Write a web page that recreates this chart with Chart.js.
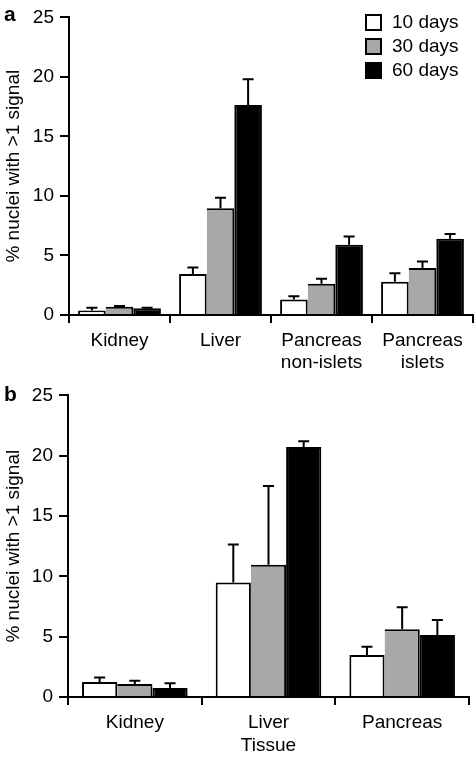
<!DOCTYPE html>
<html>
<head>
<meta charset="utf-8">
<script src="https://cdn.jsdelivr.net/npm/chart.js@4.4.1/dist/chart.umd.min.js"></script>
<style>
  body { margin: 0; background: #fff; width: 475px; height: 757px; position: relative; overflow: hidden; }
  .panel { position: absolute; left: 0; width: 475px; }
  .letter { position: absolute; left: 4px; font: bold 21px "Liberation Sans", Arial, sans-serif; color: #000; }
</style>
</head>
<body>
<div class="panel" style="top:0;height:378px"><canvas id="chartA" width="475" height="378"></canvas></div>
<div class="panel" style="top:378px;height:379px"><canvas id="chartB" width="475" height="379"></canvas></div>
<div class="letter" style="top:2px">a</div>
<div class="letter" style="top:382px">b</div>
<script>
// series names
const seriesLabels = ["10 days", "30 days", "60 days"];
const seriesColors = ["#ffffff", "#a8a8a8", "#000000"];

// panel a
const tissuesA = ["Kidney", "Liver", ["Pancreas", "non-islets"], ["Pancreas", "islets"]];
const a10 = [0.38, 3.45, 1.3, 2.8];
const a10err = [0.22, 0.55, 0.27, 0.7];
const a30 = [0.7, 8.97, 2.62, 3.95];
const a30err = [0.05, 0.88, 0.42, 0.55];
const a60 = [0.56, 17.65, 5.9, 6.4];
const a60err = [0.05, 2.15, 0.7, 0.4];

// panel b
const tissuesB = ["Kidney", "Liver", "Pancreas"];
const b10 = [1.24, 9.49, 3.49];
const b10err = [0.38, 3.16, 0.68];
const b30 = [1.07, 10.97, 5.61];
const b30err = [0.27, 6.53, 1.82];
const b60 = [0.74, 20.73, 5.14];
const b60err = [0.41, 0.47, 1.24];

const yTicks = { min: 0, max: 25, step: 5 };
const FONT = "'Liberation Sans', Arial, sans-serif";

const errorBars = {
  id: "errorBars",
  afterDatasetsDraw(chart) {
    const ctx = chart.ctx;
    const y = chart.scales.y;
    ctx.save();
    ctx.strokeStyle = "#000";
    ctx.lineWidth = 2;
    chart.data.datasets.forEach((ds, i) => {
      const meta = chart.getDatasetMeta(i);
      meta.data.forEach((bar, j) => {
        const top = y.getPixelForValue(ds.data[j] + ds.errors[j]);
        ctx.beginPath();
        ctx.moveTo(bar.x, bar.y);
        ctx.lineTo(bar.x, top);
        ctx.moveTo(bar.x - 5.5, top);
        ctx.lineTo(bar.x + 5.5, top);
        ctx.stroke();
      });
    });
    ctx.restore();
  }
};

const boxLegend = {
  id: "boxLegend",
  afterDraw(chart, args, opts) {
    if (!opts.show) return;
    const ctx = chart.ctx;
    ctx.save();
    ctx.font = "19px " + FONT;
    ctx.textBaseline = "middle";
    chart.data.datasets.forEach((ds, i) => {
      const top = opts.y + i * 24;
      ctx.fillStyle = ds.backgroundColor;
      ctx.fillRect(opts.x, top, 17, 17);
      ctx.strokeStyle = "#000";
      ctx.lineWidth = 2;
      ctx.strokeRect(opts.x + 1, top + 1, 15, 15);
      ctx.fillStyle = "#000";
      ctx.fillText(ds.label, opts.x + 27, top + 9);
    });
    ctx.restore();
  }
};

function makeDatasets(vals, errs) {
  return vals.map((v, i) => ({
    label: seriesLabels[i],
    data: v,
    errors: errs[i],
    backgroundColor: seriesColors[i],
    borderColor: "#000",
    borderWidth: i === 1 ? { top: 2, right: 2, left: 0, bottom: 0 } : 2,
    borderSkipped: "start",
    barPercentage: 1
  }));
}

function makeChart(id, labels, datasets, cfg) {
  return new Chart(document.getElementById(id), {
    type: "bar",
    data: { labels: labels, datasets: datasets },
    plugins: [errorBars, boxLegend],
    options: {
      responsive: false,
      animation: false,
      datasets: { bar: { categoryPercentage: cfg.catPct } },
      layout: { padding: { top: cfg.top, right: cfg.right, left: 0, bottom: 0 } },
      plugins: {
        legend: { display: false },
        tooltip: { enabled: false },
        boxLegend: cfg.legend
      },
      scales: {
        x: {
          grid: { display: true, offset: true, drawOnChartArea: false, drawTicks: true, tickLength: 8, color: "#000", lineWidth: 2 },
          border: { display: true, color: "#000", width: 2 },
          ticks: { color: "#000", font: { family: FONT, size: 19 }, padding: 6, maxRotation: 0 },
          title: cfg.xTitle
            ? { display: true, text: cfg.xTitle, color: "#000", font: { family: FONT, size: 19 }, padding: { top: 15, bottom: 0 } }
            : { display: false },
          afterFit(s) { s.height = cfg.xHeight; }
        },
        y: {
          min: yTicks.min,
          max: yTicks.max,
          grid: { display: true, drawOnChartArea: false, drawTicks: true, tickLength: 9, color: "#000", lineWidth: 2 },
          border: { display: true, color: "#000", width: 2 },
          ticks: { stepSize: yTicks.step, color: "#000", font: { family: FONT, size: 19 }, padding: 6 },
          title: { display: true, text: "% nuclei with >1 signal", color: "#000", font: { family: FONT, size: 19 }, padding: { top: 2, bottom: 0 } },
          afterFit(s) { s.width = cfg.yWidth; }
        }
      }
    }
  });
}

makeChart("chartA", tissuesA, makeDatasets([a10, a30, a60], [a10err, a30err, a60err]), {
  catPct: 0.82, top: 13, right: 2, xHeight: 63, yWidth: 69,
  legend: { show: true, x: 365, y: 14 }
});

makeChart("chartB", tissuesB, makeDatasets([b10, b30, b60], [b10err, b30err, b60err]), {
  catPct: 0.79, top: 16, right: 6, xHeight: 60, yWidth: 68, xTitle: "Tissue",
  legend: { show: false }
});
</script>
</body>
</html>
